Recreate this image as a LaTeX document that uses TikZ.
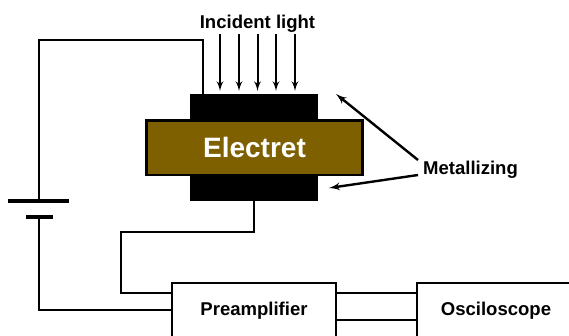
\documentclass[tikz,border=0pt]{standalone}
\usepackage{fontspec}
\setmainfont{Liberation Sans}
\usetikzlibrary{arrows}

\begin{document}
\begin{tikzpicture}[>=latex',x=0.75pt,y=-0.75pt]
  \tikzstyle{wire}=[line width=1.8pt,line join=miter]
  \tikzstyle{ray}=[line width=1.5pt]
  \tikzstyle{pointer}=[line width=1.8pt]
  \tikzstyle{metal}=[rectangle,fill=black,minimum width=96pt,minimum height=19.5pt,inner sep=0pt]
  \tikzstyle{film}=[rectangle,draw=black,line width=2pt,fill=brown60,minimum width=162pt,minimum height=41pt,inner sep=0pt,text=white,font=\fontsize{21}{25}\selectfont\bfseries]
  \tikzstyle{device}=[rectangle,draw=black,line width=1.8pt,fill=white,minimum height=42pt,inner sep=0pt,font=\fontsize{13.9}{16}\selectfont\bfseries]
  \tikzstyle{caption}=[inner sep=0pt,font=\fontsize{13.9}{16}\selectfont\bfseries]
  \tikzstyle{plate}=[line width=3pt]
  \definecolor{brown60}{RGB}{127,96,0}

\path[use as bounding box,clip] (0,0) rectangle (569,336);

% electret with metal layers
\node [metal] (mtop) at (254,107) {};
\node [metal] (mbot) at (254,188) {};
\node [film] (film) at (254.5,147.5) {Electret};

% light
\node [caption] (light) at (257.5,23.5) {Incident light};
\coordinate (s1) at (220,34);
\coordinate (s2) at (239,34);
\coordinate (s3) at (257.5,34);
\coordinate (s4) at (276,34);
\coordinate (s5) at (295,34);
\coordinate (e1) at (220,91);
\coordinate (e2) at (239,91);
\coordinate (e3) at (257.5,91);
\coordinate (e4) at (276,91);
\coordinate (e5) at (295,91);
\draw [->,ray] (s1) -- (e1);
\draw [->,ray] (s2) -- (e2);
\draw [->,ray] (s3) -- (e3);
\draw [->,ray] (s4) -- (e4);
\draw [->,ray] (s5) -- (e5);

% label arrows
\node [caption] (mlabel) at (470.5,169.5) {Metallizing};
\coordinate (a1) at (418,160);
\coordinate (a2) at (336,94);
\coordinate (b1) at (418,175);
\coordinate (b2) at (329,188);
\draw [->,pointer] (a1) -- (a2);
\draw [->,pointer] (b1) -- (b2);

% devices
\node [device,minimum width=123pt] (pre) at (254,311) {Preamplifier};
\node [device,minimum width=118.5pt] (osc) at (496,311) {Osciloscope};

\coordinate (p1) at (336,293);
\coordinate (o1) at (417,293);
\coordinate (p2) at (336,320);
\coordinate (o2) at (417,320);
\draw [wire] (p1) -- (o1);
\draw [wire] (p2) -- (o2);

% battery
\coordinate (b3) at (8,201);
\coordinate (b4) at (69,201);
\coordinate (b5) at (26,217);
\coordinate (b6) at (53,217);
\draw [plate] (b3) -- (b4);
\draw [plate] (b5) -- (b6);

% wiring
\coordinate (w1) at (203,94);
\coordinate (w2) at (203,40);
\coordinate (w3) at (39,40);
\coordinate (w4) at (39,201);
\draw [wire] (w1) -- (w2) -- (w3) -- (w4);

\coordinate (w5) at (39,217);
\coordinate (w6) at (39,310);
\coordinate (w7) at (172,310);
\draw [wire] (w5) -- (w6) -- (w7);

\coordinate (w8) at (254,201);
\coordinate (w9) at (254,232);
\coordinate (w10) at (121,232);
\coordinate (w11) at (121,293);
\coordinate (w12) at (172,293);
\draw [wire] (w8) -- (w9) -- (w10) -- (w11) -- (w12);
\end{tikzpicture}
\end{document}
